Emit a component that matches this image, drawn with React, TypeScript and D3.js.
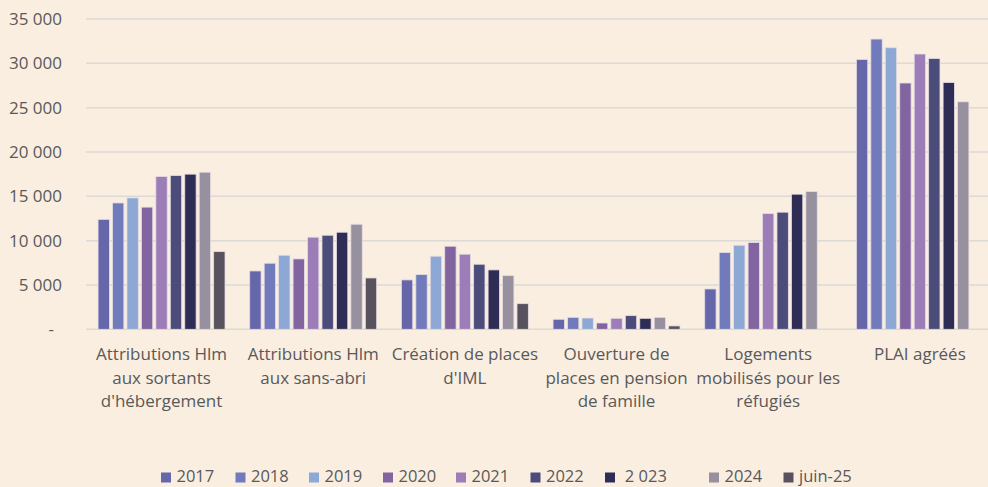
import React from "react";
import * as d3 from "d3";

const categories: string[][] = [
  ["Attributions Hlm", "aux sortants", "d'hébergement"],
  ["Attributions Hlm", "aux sans-abri"],
  ["Création de places", "d'IML"],
  ["Ouverture de", "places en pension", "de famille"],
  ["Logements", "mobilisés pour les", "réfugiés"],
  ["PLAI agréés"],
];

const seriesNames = ["2017", "2018", "2019", "2020", "2021", "2022", " 2 023", "2024", "juin-25"];
const legendLabels = ["2017", "2018", "2019", "2020", "2021", "2022", " 2 023", "2024", "juin-25"];

const v2017 = [12400, 6580, 5570, 1130, 4550, 30440];
const v2018 = [14250, 7450, 6170, 1350, 8650, 32740];
const v2019 = [14820, 8350, 8240, 1270, 9480, 31760];
const v2020 = [13780, 7940, 9370, 710, 9780, 27780];
const v2021 = [17230, 10390, 8470, 1240, 13050, 31050];
const v2022 = [17340, 10610, 7340, 1540, 13210, 30550];
const v2023 = [17500, 10950, 6700, 1240, 15240, 27840];
const v2024 = [17720, 11850, 6050, 1350, 15540, 25660];
const vJuin25: (number | null)[] = [8760, 5790, 2890, 380, null, null];

const seriesValues: (number | null)[][] = [v2017, v2018, v2019, v2020, v2021, v2022, v2023, v2024, vJuin25];

const colors = ["#6666AA", "#717ABB", "#8DA8D5", "#8264A0", "#9D7DB7", "#4B4C7A", "#2E2D55", "#96909F", "#57525E"];

const yTicks = [0, 5000, 10000, 15000, 20000, 25000, 30000, 35000];

const legendX = [161, 235.5, 309, 383, 456, 530.5, 605, 709, 783.5];

const W = 988;
const H = 487;
const FONT = "'Open Sans', sans-serif";
const TXT = "#595959";

export default function App() {
  const y = d3.scaleLinear().domain([0, 35000]).range([329.3, 19]);
  const x0 = d3
    .scaleBand<number>()
    .domain(categories.map((_, i) => i))
    .range([85.7, 995.7])
    .paddingInner(0.163)
    .paddingOuter(0.0815);
  const x1 = d3
    .scaleBand<number>()
    .domain(seriesNames.map((_, i) => i))
    .range([0, x0.bandwidth()])
    .paddingInner(0.215)
    .paddingOuter(0);

  const loc = d3.formatLocale({ decimal: ",", thousands: " ", grouping: [3], currency: ["", ""] });
  const fmt = loc.format(",d");

  return (
    <div style={{ position: "absolute", left: 0, top: 0, width: W, height: H }}>
      <svg width={W} height={H} style={{ display: "block", fontFamily: FONT }}>
        <rect x={0} y={0} width={W} height={H} fill="#FAEEE1" />
        {yTicks.map((t) => (
          <g key={t}>
            <line x1={86} x2={W} y1={y(t)} y2={y(t)} stroke="#DDD9D6" strokeWidth={1.5} />
            <text
              x={t === 0 ? 54 : 62}
              y={y(t)}
              dy="0.36em"
              textAnchor="end"
              fontSize={17}
              fill={TXT}
            >
              {t === 0 ? "-" : fmt(t)}
            </text>
          </g>
        ))}
        {categories.map((_, ci) => (
          <g key={ci} transform={`translate(${x0(ci)},0)`}>
            {seriesValues.map((vals, si) => {
              const v = vals[ci];
              if (v == null) return null;
              return (
                <rect
                  key={si}
                  x={x1(si)}
                  y={y(v)}
                  width={x1.bandwidth()}
                  height={y(0) - y(v)}
                  fill={colors[si]}
                  stroke="#E4DCE2"
                  strokeWidth={0.8}
                />
              );
            })}
          </g>
        ))}
        {categories.map((lines, ci) => (
          <text
            key={ci}
            x={(x0(ci) as number) + x0.bandwidth() / 2}
            y={360}
            textAnchor="middle"
            fontSize={17}
            fill={TXT}
          >
            {lines.map((l, li) => (
              <tspan key={li} x={(x0(ci) as number) + x0.bandwidth() / 2} y={360 + li * 23.5}>
                {l}
              </tspan>
            ))}
          </text>
        ))}
        {legendLabels.map((l, i) => (
          <g key={i}>
            <rect x={legendX[i]} y={472.5} width={10} height={10} fill={colors[i]} />
            <text x={legendX[i] + 15.5} y={482} fontSize={16.5} fill={TXT} style={{ whiteSpace: "pre" }}>
              {l}
            </text>
          </g>
        ))}
      </svg>
    </div>
  );
}
